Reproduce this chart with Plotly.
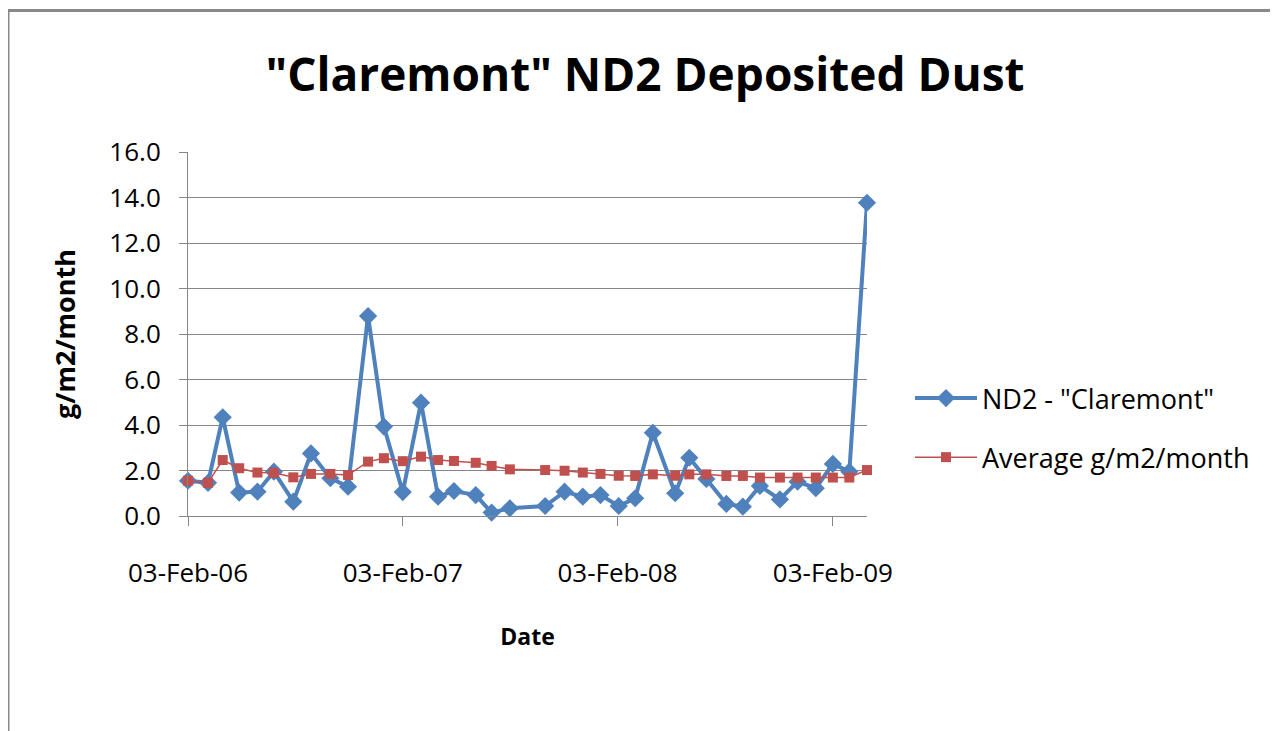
import plotly.graph_objects as go

dates = ["2006-02-03", "2006-03-09", "2006-04-03", "2006-05-01", "2006-06-01", "2006-06-29",
         "2006-08-01", "2006-08-31", "2006-10-03", "2006-11-02", "2006-12-06", "2007-01-02",
         "2007-02-03", "2007-03-06", "2007-04-04", "2007-05-01", "2007-06-07", "2007-07-04",
         "2007-08-04", "2007-10-03", "2007-11-05", "2007-12-06", "2008-01-05", "2008-02-05",
         "2008-03-04", "2008-04-03", "2008-05-11", "2008-06-04", "2008-07-03", "2008-08-06",
         "2008-09-03", "2008-10-02", "2008-11-05", "2008-12-05", "2009-01-05", "2009-02-03",
         "2009-03-03", "2009-04-02"]

nd2 = [1.55, 1.46, 4.34, 1.03, 1.07, 1.95, 0.63, 2.75, 1.66, 1.29, 8.79, 3.93,
       1.05, 4.98, 0.85, 1.10, 0.92, 0.15, 0.34, 0.44, 1.07, 0.85, 0.92, 0.44,
       0.78, 3.66, 1.00, 2.56, 1.63, 0.53, 0.41, 1.32, 0.73, 1.51, 1.22, 2.29,
       1.95, 13.77]

average = [1.55, 1.46, 2.46, 2.10, 1.91, 1.90, 1.70, 1.85, 1.85, 1.80, 2.39, 2.54,
           2.41, 2.61, 2.46, 2.42, 2.34, 2.20, 2.05, 2.02, 1.99, 1.91, 1.85, 1.77,
           1.76, 1.83, 1.77, 1.83, 1.83, 1.76, 1.76, 1.69, 1.69, 1.69, 1.69, 1.69,
           1.69, 2.02]

x_tickvals = ["2006-02-03", "2007-02-03", "2008-02-03", "2009-02-03"]
x_ticktext = ["03-Feb-06", "03-Feb-07", "03-Feb-08", "03-Feb-09"]
y_tickvals = [0, 2, 4, 6, 8, 10, 12, 14, 16]
y_ticktext = ["0.0", "2.0", "4.0", "6.0", "8.0", "10.0", "12.0", "14.0", "16.0"]

FONT = "Open Sans"
W, H = 1270, 723
L, R, T, B = 180, 859, 144, 508

fig = go.Figure()
fig.add_trace(go.Scatter(
    x=dates, y=nd2, mode="lines+markers", name='ND2 - "Claremont"',
    line=dict(color="#4F81BD", width=4),
    marker=dict(symbol="diamond", size=14, color="#4F81BD"),
    legendgroup="a", cliponaxis=False,
))
fig.add_trace(go.Scatter(
    x=dates, y=average, mode="lines+markers", name="Average g/m2/month",
    line=dict(color="#C0504D", width=1.5),
    marker=dict(symbol="square", size=10, color="#C0504D"),
    legendgroup="b", cliponaxis=False,
))

def px_x(p):
    return (p - L) / (R - L)

def px_y(p):
    return (B - p) / (B - T)

fig.update_layout(
    width=W, height=H,
    margin=dict(l=L, r=W - R, t=T, b=H - B, pad=0),
    paper_bgcolor="white", plot_bgcolor="white",
    font=dict(family=FONT, color="#000000", size=26),
    title=dict(text='<b>"Claremont" ND2 Deposited Dust</b>', x=637 / W, xanchor="center",
               y=1 - 67 / H, yanchor="middle", font=dict(size=46, family=FONT)),
    showlegend=True,
    legend=dict(x=px_x(902), y=px_y(366), xanchor="left", yanchor="top",
                font=dict(size=27, family=FONT), tracegroupgap=21, itemwidth=62,
                traceorder="grouped", bgcolor="rgba(0,0,0,0)"),
    xaxis=dict(
        type="date", range=["2006-02-03", "2009-04-02"],
        tickvals=x_tickvals, ticktext=x_ticktext,
        showgrid=False, showline=True, linecolor="#868686", linewidth=1,
        ticks="outside", ticklen=9, tickcolor="#868686", tickwidth=1,
        tickfont=dict(size=26, family=FONT), ticklabelstandoff=25,
        title=dict(text="<b>Date</b>", font=dict(size=23, family=FONT), standoff=39),
        zeroline=False,
    ),
    yaxis=dict(
        range=[0, 16], tickvals=y_tickvals, ticktext=y_ticktext,
        showgrid=True, gridcolor="#868686", gridwidth=1,
        showline=True, linecolor="#868686", linewidth=1,
        ticks="outside", ticklen=8, tickcolor="#868686", tickwidth=1,
        tickfont=dict(size=26, family=FONT), ticklabelstandoff=13,
        title=dict(text="<b>g/m2/month</b>", font=dict(size=27, family=FONT), standoff=25),
        zeroline=False,
    ),
)

fig.add_shape(type="rect", xref="paper", yref="paper",
              x0=px_x(0), x1=px_x(1268), y0=px_y(760), y1=px_y(2.5),
              line=dict(color="#888888", width=3), fillcolor="rgba(0,0,0,0)", layer="below")

fig.write_html("out.html")
